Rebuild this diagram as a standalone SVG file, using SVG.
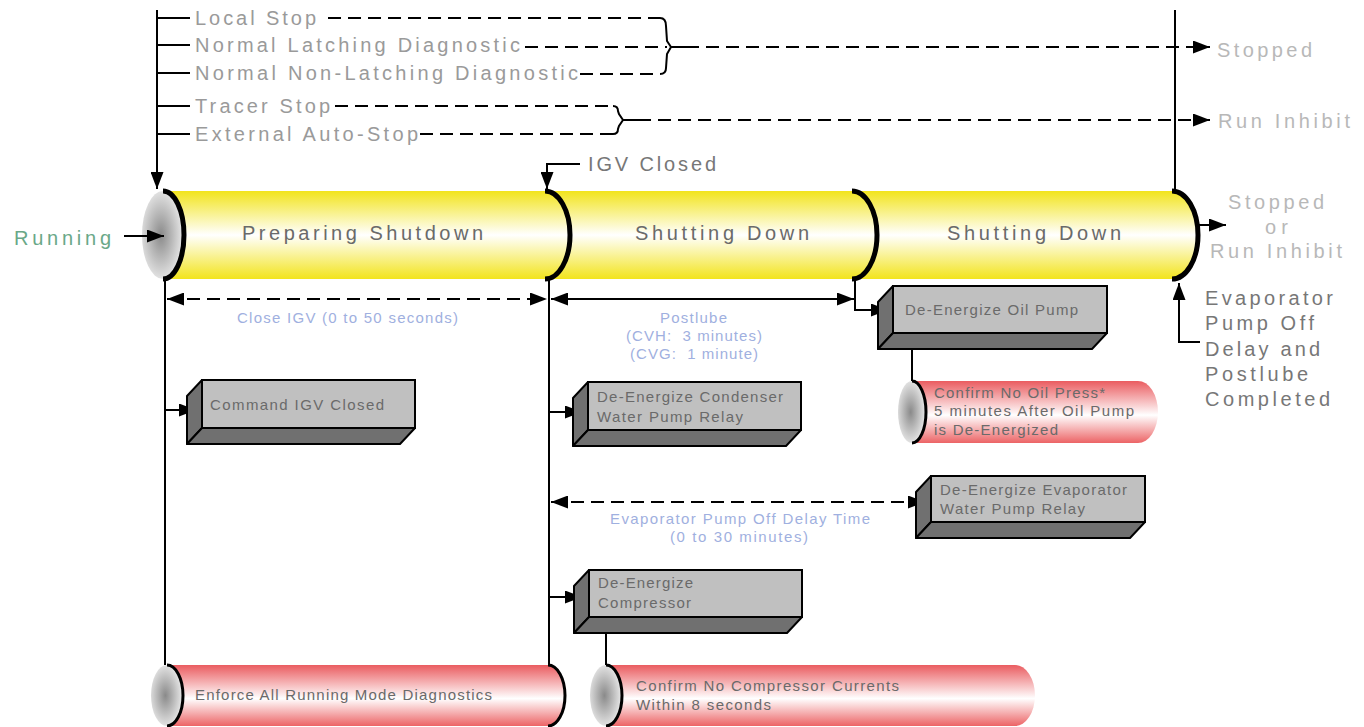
<svg xmlns="http://www.w3.org/2000/svg" width="1364" height="727" viewBox="0 0 1364 727">
<style>
text{font-family:"Liberation Sans",Arial,sans-serif}
.lbl{font-size:20px;fill:#9a9a9a}
.out{font-size:20px;fill:#b8b8b8}
.cyl{font-size:20px;fill:#6a6a6a}
.dark{font-size:20px;fill:#777}
.blue{font-size:15px;fill:#9fb0e0}
.box{font-size:15px;fill:#6a6a6a}
.ln{fill:none;stroke:#000;stroke-width:2}
.dash{fill:none;stroke:#000;stroke-width:2;stroke-dasharray:13 7}
.arc{fill:none;stroke:#000;stroke-width:5}
.arc3{fill:none;stroke:#000;stroke-width:3}
.front{fill:#c0c0c0;stroke:#000;stroke-width:2}
.side{fill:#707070;stroke:#000;stroke-width:2;stroke-linejoin:round}
</style>
<defs>
<linearGradient id="yel" x1="0" y1="0" x2="0" y2="1">
<stop offset="0" stop-color="#f2e41c"/>
<stop offset="0.5" stop-color="#ffffff"/>
<stop offset="1" stop-color="#f2e41c"/>
</linearGradient>
<linearGradient id="red" x1="0" y1="0" x2="0" y2="1">
<stop offset="0" stop-color="#ea5c60"/>
<stop offset="0.55" stop-color="#ffffff"/>
<stop offset="1" stop-color="#ec6466"/>
</linearGradient>
<radialGradient id="cap" cx="0.45" cy="0.5" r="0.6">
<stop offset="0" stop-color="#8a8a8a"/>
<stop offset="1" stop-color="#f4f4f4"/>
</radialGradient>
<marker id="ah" markerUnits="userSpaceOnUse" markerWidth="18" markerHeight="13" refX="17" refY="6.5" orient="auto-start-reverse">
<path d="M0,0 L17,6.5 L0,13 Z" fill="#000"/>
</marker>
</defs>

<g id="shutting-down-2">
<path d="M852,191 H1172 A26,44 0 0 1 1172,279 H852 Z" fill="url(#yel)"/>
<path class="arc" d="M1172,191 A26,44 0 0 1 1172,279"/>
<text class="cyl" x="947" y="240" textLength="174">Shutting Down</text>
</g>
<g id="shutting-down-1">
<path d="M545,191 H852 A25,44 0 0 1 852,279 H545 Z" fill="url(#yel)"/>
<path class="arc" d="M852,191 A25,44 0 0 1 852,279"/>
<text class="cyl" x="635" y="240" textLength="174">Shutting Down</text>
</g>
<g id="preparing-shutdown">
<path d="M163,191 H545 A25,44 0 0 1 545,279 H163 Z" fill="url(#yel)"/>
<ellipse cx="163" cy="235" rx="21" ry="44" fill="url(#cap)"/>
<path class="arc" d="M163,191 A21,44 0 0 1 163,279"/>
<path class="arc" d="M545,191 A25,44 0 0 1 545,279"/>
<text class="cyl" x="242" y="240" textLength="241">Preparing Shutdown</text>
</g>

<g id="connectors">
<path class="ln" d="M157,10 V189" marker-end="url(#ah)"/>
<path class="ln" d="M157,18 H190 M157,45 H190 M157,73 H190 M157,106 H190 M157,134 H190"/>
<path class="dash" d="M328,18 H660 M525,47 H667 M580,74 H660"/>
<path class="ln" d="M660,18 Q666,18 666,26 L667,41 L671,47 L667,54 L666,68 Q666,74 660,74"/>
<path class="ln" stroke-width="3" d="M671,47 H686"/>
<path class="dash" d="M686,47 H1210" marker-end="url(#ah)"/>
<path class="dash" d="M335,106 H613 M420,134 H613"/>
<path class="ln" d="M613,106 Q618,106 618,111 L619,114 L623,120 L619,126 L618,129 Q618,134 613,134"/>
<path class="ln" stroke-width="3" d="M623,120 H638"/>
<path class="dash" d="M638,120 H1210" marker-end="url(#ah)"/>
<path class="ln" d="M1175,10 V191"/>
<path class="ln" d="M580,164 H547 V189" marker-end="url(#ah)"/>
<path class="ln" d="M124,236 H164" marker-end="url(#ah)"/>
<path class="ln" d="M1199,225 H1226" marker-end="url(#ah)"/>
<path class="ln" d="M1200,342 H1179 V283" marker-end="url(#ah)"/>
<path class="ln" d="M165,280 V665 M549,280 V665"/>
<path class="dash" d="M167,299 H547" marker-start="url(#ah)" marker-end="url(#ah)"/>
<path class="ln" d="M551,299 H854" marker-start="url(#ah)" marker-end="url(#ah)"/>
<path class="ln" d="M855,280 V310 H888" marker-end="url(#ah)"/>
<path class="ln" d="M165,410 H196" marker-end="url(#ah)"/>
<path class="ln" d="M549,412 H582" marker-end="url(#ah)"/>
<path class="dash" d="M551,502 H925" marker-start="url(#ah)" marker-end="url(#ah)"/>
<path class="ln" d="M549,597 H582" marker-end="url(#ah)"/>
<path class="ln" d="M912,333 V381"/>
<path class="ln" d="M606,617 V665"/>
</g>

<g id="top-labels">
<text class="lbl" x="195" y="25" textLength="121">Local Stop</text>
<text class="lbl" x="195" y="52" textLength="325">Normal Latching Diagnostic</text>
<text class="lbl" x="195" y="80" textLength="383">Normal Non-Latching Diagnostic</text>
<text class="lbl" x="195" y="113" textLength="135">Tracer Stop</text>
<text class="lbl" x="195" y="141" textLength="223">External Auto-Stop</text>
<text class="out" x="1217" y="57" textLength="95">Stopped</text>
<text class="out" x="1218" y="128" textLength="132">Run Inhibit</text>
<text class="dark" x="588" y="171" textLength="128">IGV Closed</text>
<text x="14" y="245" font-size="20" fill="#6aa888" textLength="97">Running</text>
</g>

<g id="end-state">
<text class="out" x="1228" y="209" textLength="96">Stopped</text>
<text class="out" x="1265" y="234" textLength="23">or</text>
<text class="out" x="1210" y="258" textLength="132">Run Inhibit</text>
</g>
<g id="evap-postlube-note">
<text class="dark" x="1205" y="305" textLength="128">Evaporator</text>
<text class="dark" x="1205" y="330" textLength="109">Pump Off</text>
<text class="dark" x="1205" y="356" textLength="115">Delay and</text>
<text class="dark" x="1205" y="381" textLength="103">Postlube</text>
<text class="dark" x="1205" y="406" textLength="125">Completed</text>
</g>

<g id="timing-labels">
<text class="blue" x="237" y="323" textLength="221">Close IGV (0 to 50 seconds)</text>
<text class="blue" x="660" y="323" textLength="67">Postlube</text>
<text class="blue" x="626" y="341" textLength="136" xml:space="preserve">(CVH:  3 minutes)</text>
<text class="blue" x="630" y="359" textLength="128" xml:space="preserve">(CVG:  1 minute)</text>
<text class="blue" x="610" y="524" textLength="260">Evaporator Pump Off Delay Time</text>
<text class="blue" x="670" y="542" textLength="138">(0 to 30 minutes)</text>
</g>

<g id="command-igv-closed">
<polygon class="side" points="202,380 187,396 187,444 202,428"/>
<polygon class="side" points="202,428 187,444 400,444 415,428"/>
<rect class="front" x="202" y="380" width="213" height="48"/>
<text class="box" x="210" y="410" textLength="174">Command IGV Closed</text>
</g>

<g id="deenergize-condenser">
<polygon class="side" points="588,382 573,398 573,446 588,430"/>
<polygon class="side" points="588,430 573,446 786,446 801,430"/>
<rect class="front" x="588" y="382" width="213" height="48"/>
<text class="box" x="597" y="402" textLength="186">De-Energize Condenser</text>
<text class="box" x="597" y="422" textLength="146">Water Pump Relay</text>
</g>

<g id="deenergize-oil-pump">
<polygon class="side" points="893,286 878,302 878,349 893,333"/>
<polygon class="side" points="893,333 878,349 1092,349 1107,333"/>
<rect class="front" x="893" y="286" width="214" height="47"/>
<text class="box" x="905" y="315" textLength="173">De-Energize Oil Pump</text>
</g>

<g id="deenergize-evaporator">
<polygon class="side" points="931,476 916,492 916,538 931,522"/>
<polygon class="side" points="931,522 916,538 1130,538 1145,522"/>
<rect class="front" x="931" y="476" width="214" height="46"/>
<text class="box" x="940" y="495" textLength="187">De-Energize Evaporator</text>
<text class="box" x="940" y="514" textLength="145">Water Pump Relay</text>
</g>

<g id="deenergize-compressor">
<polygon class="side" points="589,570 574,586 574,633 589,617"/>
<polygon class="side" points="589,617 574,633 787,633 802,617"/>
<rect class="front" x="589" y="570" width="213" height="47"/>
<text class="box" x="598" y="588" textLength="95">De-Energize</text>
<text class="box" x="598" y="608" textLength="93">Compressor</text>
</g>

<g id="confirm-no-oil-press">
<path d="M912,381 H1138 A20,31 0 0 1 1138,443 H912 Z" fill="url(#red)"/>
<ellipse cx="912" cy="412" rx="14" ry="31" fill="url(#cap)"/>
<path class="arc3" d="M912,381 A14,31 0 0 1 912,443"/>
<text class="box" x="934" y="398" textLength="171">Confirm No Oil Press*</text>
<text class="box" x="934" y="416" textLength="200">5 minutes After Oil Pump</text>
<text class="box" x="934" y="435" textLength="124">is De-Energized</text>
</g>

<g id="enforce-running-diagnostics">
<path d="M167,665 H548 A17,30.5 0 0 1 548,726 H167 Z" fill="url(#red)"/>
<ellipse cx="167" cy="695.5" rx="16" ry="30.5" fill="url(#cap)"/>
<path class="arc3" d="M167,665 A16,30.5 0 0 1 167,726"/>
<path class="arc3" d="M548,665 A17,30.5 0 0 1 548,726"/>
<text class="box" x="195" y="700" textLength="297">Enforce All Running Mode Diagnostics</text>
</g>

<g id="confirm-no-compressor-currents">
<path d="M606,665 H1015 A20,30.5 0 0 1 1015,726 H606 Z" fill="url(#red)"/>
<ellipse cx="606" cy="695.5" rx="16" ry="30.5" fill="url(#cap)"/>
<path class="arc3" d="M606,665 A16,30.5 0 0 1 606,726"/>
<text class="box" x="636" y="691" textLength="263">Confirm No Compressor Currents</text>
<text class="box" x="636" y="710" textLength="135">Within 8 seconds</text>
</g>
</svg>
